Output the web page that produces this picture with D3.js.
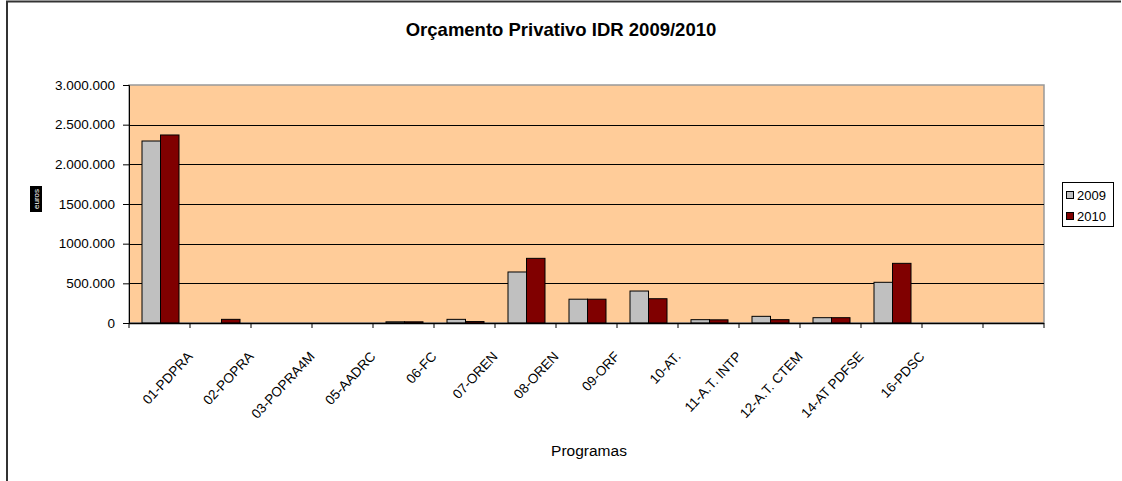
<!DOCTYPE html>
<html>
<head>
<meta charset="utf-8">
<script src="https://cdn.jsdelivr.net/npm/d3@7"></script>
<style>
  html, body { margin: 0; padding: 0; background: #fff; }
  svg { display: block; font-family: "Liberation Sans", Arial, sans-serif; }
</style>
</head>
<body>
<svg id="chart" width="1122" height="481"></svg>
<script>
// Programme codes along the x axis (two trailing slots are empty)
const programas = [
  "01-PDPRA", "02-POPRA", "03-POPRA4M", "05-AADRC", "06-FC",
  "07-OREN", "08-OREN", "09-ORF", "10-AT.", "11-A.T. INTP",
  "12-A.T. CTEM", "14-AT PDFSE", "16-PDSC", "", ""
];
const anos = ["2009", "2010"];
// Budget in euros per programme
const valores2009 = [2294000, 0, 0, 0, 15000, 46000, 643000, 300000, 403000, 42000, 84000, 67000, 513000, 0, 0];
const valores2010 = [2370000, 46000, 0, 0, 15000, 18000, 815000, 300000, 306000, 40000, 42000, 67000, 752000, 0, 0];
const yTicks = [0, 500000, 1000000, 1500000, 2000000, 2500000, 3000000];
const yTickLabels = ["0", "500.000", "1000.000", "1500.000", "2.000.000", "2.500.000", "3.000.000"];
const cores = ["#C0C0C0", "#800000"];

const svg = d3.select("#chart");

// chart frame
svg.append("path")
  .attr("d", "M7,490 V1.5 H1121")
  .attr("fill", "none").attr("stroke", "#333").attr("stroke-width", 2);

const plot = { left: 129, top: 85, right: 1044, bottom: 323 };

const x = d3.scaleBand().domain(d3.range(programas.length))
  .range([plot.left, plot.right]).paddingInner(0).paddingOuter(0);
const y = d3.scaleLinear().domain([0, 3000000]).range([plot.bottom, plot.top]);
// two bars per category, leaving a gap between groups
const xSub = d3.scaleBand().domain(anos).range([13, 13 + 37]).paddingInner(0).paddingOuter(0);

// plot area
svg.append("rect")
  .attr("x", plot.left).attr("y", plot.top)
  .attr("width", plot.right - plot.left).attr("height", plot.bottom - plot.top)
  .attr("fill", "#FFCC99").attr("stroke", "#999").attr("stroke-width", 1.5);

// horizontal gridlines
svg.append("g").selectAll("line")
  .data(yTicks.filter(d => d > 0 && d < 3000000))
  .join("line")
  .attr("x1", plot.left).attr("x2", plot.right)
  .attr("y1", d => Math.round(y(d)) + 0.5).attr("y2", d => Math.round(y(d)) + 0.5)
  .attr("stroke", "#000").attr("stroke-width", 1);

// bars
const series = [valores2009, valores2010];
const gBars = svg.append("g");
series.forEach((vals, si) => {
  gBars.selectAll(null)
    .data(vals.map((v, i) => ({ i, v })).filter(d => d.v > 0))
    .join("rect")
    .attr("x", d => x(d.i) + xSub(anos[si]))
    .attr("y", d => y(d.v))
    .attr("width", xSub.bandwidth())
    .attr("height", d => plot.bottom - y(d.v))
    .attr("fill", cores[si])
    .attr("stroke", "#000").attr("stroke-width", 1);
});

// y axis
const yAxis = d3.axisLeft(y).tickValues(yTicks)
  .tickFormat((d, i) => yTickLabels[i]).tickSize(6).tickPadding(8);
const gy = svg.append("g").attr("transform", `translate(${plot.left},0)`).call(yAxis);
gy.select(".domain").attr("stroke", "#000");
gy.selectAll(".tick line").attr("stroke", "#000");
gy.selectAll("text").attr("font-size", 13.5).attr("fill", "#000")
  .attr("font-family", "Liberation Sans, Arial, sans-serif");

// x axis: ticks on category boundaries
const bounds = d3.range(programas.length + 1).map(i => plot.left + i * x.step());
const gx = svg.append("g");
gx.append("line").attr("x1", plot.left).attr("x2", plot.right)
  .attr("y1", plot.bottom + 0.5).attr("y2", plot.bottom + 0.5).attr("stroke", "#000").attr("stroke-width", 1.5);
gx.selectAll(".tk").data(bounds).join("line").attr("class", "tk")
  .attr("x1", d => d).attr("x2", d => d)
  .attr("y1", plot.bottom).attr("y2", plot.bottom + 5)
  .attr("stroke", "#000");
gx.selectAll(".lbl").data(programas).join("text").attr("class", "lbl")
  .attr("transform", (d, i) => `translate(${x(i) + x.bandwidth() / 2 + 34},${plot.bottom + 34}) rotate(-47)`)
  .attr("text-anchor", "end")
  .attr("font-size", 13.5)
  .attr("fill", "#000")
  .text(d => d);

// axis titles
svg.append("text").attr("x", 589).attr("y", 456).attr("text-anchor", "middle")
  .attr("font-size", 15.5).attr("fill", "#000").text("Programas");

const yt = svg.append("g").attr("transform", "translate(36,199)");
yt.append("rect").attr("x", -6).attr("y", -13).attr("width", 12).attr("height", 26).attr("fill", "#000");
yt.append("text").attr("transform", "rotate(-90)").attr("text-anchor", "middle")
  .attr("dy", "0.33em").attr("font-size", 8).attr("fill", "#fff").text("euros");

// title
svg.append("text").attr("x", 561).attr("y", 36).attr("text-anchor", "middle")
  .attr("font-size", 18.5).attr("font-weight", "bold").attr("fill", "#000")
  .text("Orçamento Privativo IDR 2009/2010");

// legend
const lg = svg.append("g").attr("transform", "translate(1062,182)");
lg.append("rect").attr("x", 0.5).attr("y", 0.5).attr("width", 51).attr("height", 44)
  .attr("fill", "#fff").attr("stroke", "#000");
anos.forEach((a, i) => {
  lg.append("rect").attr("x", 4.5).attr("y", 9.5 + i * 21).attr("width", 7).attr("height", 7)
    .attr("fill", cores[i]).attr("stroke", "#000");
  lg.append("text").attr("x", 15).attr("y", 18 + i * 21)
    .attr("font-size", 13).attr("fill", "#000").text(a);
});
</script>
</body>
</html>
